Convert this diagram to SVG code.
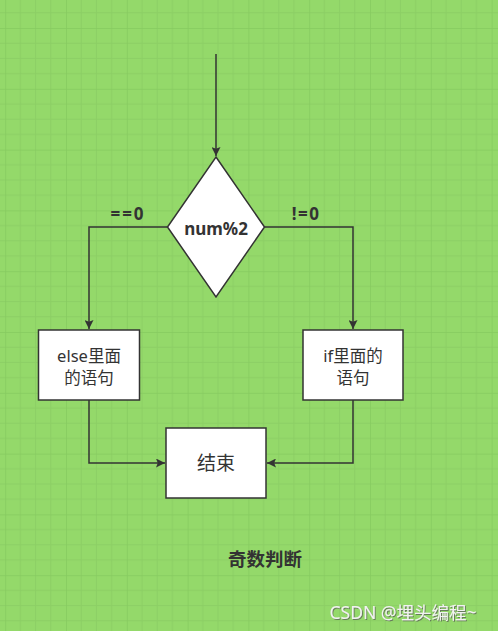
<svg xmlns="http://www.w3.org/2000/svg" width="498" height="631" viewBox="0 0 498 631">
<style>
.shape{fill:#ffffff;stroke:#333333;stroke-width:1.5}
.edge{fill:none;stroke:#333333;stroke-width:1.5}
.txt{font-family:"Noto Sans","Noto Sans CJK SC",sans-serif;fill:#333333;text-anchor:middle;dominant-baseline:central}
.lbl{font-size:16.5px}
.bold{font-weight:bold}
</style>
<defs>
<pattern id="grid" patternUnits="userSpaceOnUse" x="5.2" y="28" width="60.8" height="60.8">
<rect width="60.8" height="60.8" fill="#94d96a"/>
<g stroke="#8ccf65" stroke-width="1">
<line x1="15.2" y1="0" x2="15.2" y2="60.8"/>
<line x1="30.4" y1="0" x2="30.4" y2="60.8"/>
<line x1="45.6" y1="0" x2="45.6" y2="60.8"/>
<line x1="0" y1="15.2" x2="60.8" y2="15.2"/>
<line x1="0" y1="30.4" x2="60.8" y2="30.4"/>
<line x1="0" y1="45.6" x2="60.8" y2="45.6"/>
</g>
<g stroke="#86cb5f" stroke-width="1.5">
<line x1="0" y1="0" x2="0" y2="60.8"/>
<line x1="0" y1="0" x2="60.8" y2="0"/>
</g>
</pattern>
<marker id="arrow" viewBox="0 0 10 10" refX="10" refY="5" markerWidth="10" markerHeight="9" markerUnits="userSpaceOnUse" orient="auto">
<path d="M0,0 L10,5 L0,10 L2,5 Z" fill="#333333"/>
</marker>
<filter id="shadow" x="-10%" y="-30%" width="120%" height="160%">
<feDropShadow dx="1" dy="1" stdDeviation="0.6" flood-color="#555555" flood-opacity="0.7"/>
</filter>
</defs>
<rect width="498" height="631" fill="url(#grid)"/>

<g id="connectors">
<path class="edge" d="M216,54 L216,156" marker-end="url(#arrow)"/>
<path class="edge" d="M167.5,227 L89,227 L89,329" marker-end="url(#arrow)"/>
<path class="edge" d="M264.5,227 L353,227 L353,329" marker-end="url(#arrow)"/>
<path class="edge" d="M89,400 L89,463 L165,463" marker-end="url(#arrow)"/>
<path class="edge" d="M353,400 L353,463 L267,463" marker-end="url(#arrow)"/>
<text class="txt bold" x="128" y="213" font-size="17" letter-spacing="2">==0</text>
<text class="txt bold" x="306" y="213" font-size="17" letter-spacing="1.5">!=0</text>
</g>

<g id="decision">
<polygon class="shape" points="216,157 264.5,227 216,297 167.5,227"/>
<text class="txt bold" x="216" y="228" font-size="17">num%2</text>
</g>

<g id="else-box">
<rect class="shape" x="38.5" y="330" width="101" height="70"/>
<text class="txt lbl" x="89" y="355">else里面</text>
<text class="txt lbl" x="89" y="377">的语句</text>
</g>

<g id="if-box">
<rect class="shape" x="303" y="330" width="100" height="70"/>
<text class="txt lbl" x="353" y="355">if里面的</text>
<text class="txt lbl" x="353" y="377">语句</text>
</g>

<g id="end-box">
<rect class="shape" x="166" y="428" width="100" height="70"/>
<text class="txt" x="216" y="463" font-size="19">结束</text>
</g>

<g id="title">
<text class="txt bold" x="265" y="558" font-size="18.5">奇数判断</text>
</g>

<g id="watermark">
<text x="403" y="612" font-family="Noto Sans, Noto Sans CJK SC, sans-serif" font-size="17.5" fill="#f2f2f2" text-anchor="middle" dominant-baseline="central" filter="url(#shadow)">CSDN @埋头编程~</text>
</g>
</svg>
